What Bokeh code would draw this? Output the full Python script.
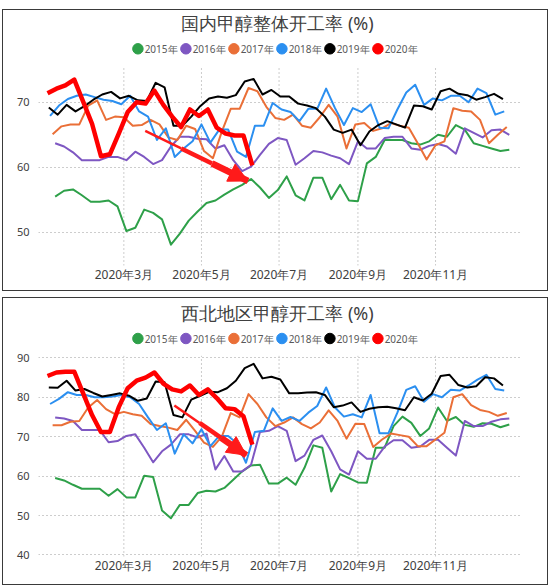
from bokeh.plotting import figure
from bokeh.models import Range1d, FixedTicker, Arrow, NormalHead, Label
from bokeh.layouts import column
from bokeh.embed import file_html
from bokeh.resources import INLINE
from bokeh.core.properties import value

years = ["2015年", "2016年", "2017年", "2018年", "2019年", "2020年"]
colors = ["#2ea049", "#7e57c2", "#ea6f37", "#2b8ff0", "#000000", "#ff0000"]
# day of 2020 (0 = 1 Jan) on which each year's first weekly reading is plotted
start_day = [6, 6, 4, 2, 1, 0]
tick_days = [60, 121, 182, 244, 305]
tick_labels = ["2020年3月", "2020年5月", "2020年7月", "2020年9月", "2020年11月"]

title_top = "国内甲醇整体开工率 (%)"
title_bot = "西北地区甲醇开工率 (%)"

# ---- 国内甲醇整体开工率 (weekly, %) ----
nat_2015 = [55.5, 56.4, 56.6, 55.7, 54.7, 54.7, 54.9, 54.0, 50.2, 50.7, 53.5, 53.0, 52.0, 48.1, 49.8, 51.8,
            53.2, 54.5, 54.9, 55.8, 56.6, 57.3, 58.2, 56.9, 55.3, 56.5, 58.6, 55.7, 54.9, 58.4, 58.4, 55.1,
            57.3, 54.9, 54.8, 60.6, 61.6, 64.2, 64.2, 64.2, 63.7, 63.5, 64.0, 65.0, 64.7, 66.5, 65.8, 63.7,
            63.3, 62.9, 62.5, 62.7]
nat_2016 = [63.7, 63.2, 62.3, 61.1, 61.1, 61.1, 61.6, 61.6, 61.1, 62.4, 61.6, 60.5, 61.1, 63.2, 64.7, 64.7,
            64.4, 64.3, 62.9, 63.4, 61.1, 59.4, 60.1, 61.9, 63.6, 64.5, 64.2, 60.4, 61.4, 62.5, 62.3, 61.8,
            61.4, 60.5, 64.0, 62.9, 62.9, 64.5, 64.7, 64.7, 62.9, 62.7, 63.3, 63.6, 63.2, 62.1, 66.0, 65.3,
            64.6, 65.7, 65.8, 65.0]
nat_2017 = [65.1, 66.3, 66.6, 66.6, 69.5, 70.3, 67.3, 67.8, 67.7, 66.4, 66.5, 67.3, 66.6, 64.6, 64.2, 66.4,
            65.9, 62.5, 61.4, 65.5, 69.0, 69.0, 72.2, 71.7, 69.3, 67.6, 67.3, 68.1, 66.4, 66.1, 67.7, 69.6,
            67.8, 62.9, 66.6, 66.8, 65.6, 66.0, 66.8, 66.4, 66.1, 63.7, 61.2, 63.4, 64.0, 69.1, 68.7, 68.6,
            67.3, 63.7, 65.0, 66.2]
nat_2018 = [67.9, 69.5, 70.5, 71.0, 71.2, 70.8, 70.4, 70.2, 69.7, 71.0, 68.6, 67.8, 64.2, 66.0, 61.6, 62.9,
            64.0, 66.6, 63.8, 65.8, 65.8, 62.4, 61.6, 66.4, 66.4, 69.9, 68.9, 68.5, 67.1, 69.0, 69.0, 72.1,
            69.1, 66.5, 69.1, 68.5, 69.7, 66.1, 66.0, 68.9, 71.5, 72.7, 69.6, 70.6, 70.3, 71.0, 71.0, 70.0,
            72.1, 71.4, 68.1, 68.6]
nat_2019 = [69.2, 68.1, 69.6, 68.6, 69.4, 70.4, 71.2, 71.6, 70.6, 71.0, 70.3, 70.2, 73.0, 72.3, 66.4, 66.4,
            67.8, 69.4, 70.6, 70.9, 70.7, 71.1, 73.2, 73.6, 71.2, 71.9, 70.9, 70.9, 69.8, 69.5, 69.1, 67.8,
            65.8, 65.3, 65.8, 63.4, 65.5, 66.5, 67.1, 66.6, 66.1, 69.5, 69.4, 68.9, 71.7, 72.1, 71.3, 71.1,
            70.4, 70.8, 71.3, 70.5]
nat_2020 = [71.4, 72.1, 72.6, 73.5, 70.1, 66.7, 61.7, 62.0, 65.2, 68.5, 70.0, 69.8, 71.8, 69.6, 67.8, 66.2,
            68.9, 67.9, 68.9, 66.1, 65.2, 64.9, 64.9, 60.3]

# ---- 西北地区甲醇开工率 (weekly, %) ----
nw_2015 = [59.5, 58.9, 57.8, 56.8, 56.8, 56.8, 55.0, 56.7, 54.6, 54.6, 60.1, 59.8, 51.3, 49.3, 52.7, 52.7,
           55.7, 56.3, 56.1, 57.0, 59.1, 61.2, 62.7, 62.9, 58.1, 58.1, 59.6, 57.8, 62.1, 67.8, 67.2, 56.1,
           60.5, 59.5, 58.4, 58.3, 67.2, 67.2, 72.7, 75.1, 73.5, 70.2, 72.1, 77.4, 74.0, 75.0, 73.0, 72.5,
           73.4, 73.3, 72.4, 73.1]
nw_2016 = [74.9, 74.6, 74.0, 71.7, 71.7, 71.7, 68.6, 68.9, 70.2, 70.6, 67.2, 63.5, 66.3, 68.0, 70.6, 70.6,
           69.8, 70.8, 61.7, 65.1, 61.2, 61.2, 62.9, 71.2, 71.5, 72.7, 71.5, 63.8, 65.2, 69.2, 70.3, 66.3,
           61.7, 60.4, 66.3, 64.4, 64.4, 67.5, 69.1, 69.1, 67.2, 67.5, 69.2, 69.2, 67.2, 65.2, 74.0, 72.7,
           72.7, 73.8, 74.4, 74.6]
nw_2017 = [72.9, 72.9, 73.8, 74.0, 77.4, 79.3, 77.0, 75.7, 76.3, 75.7, 75.3, 73.2, 72.7, 72.3, 71.7, 74.3,
           71.5, 68.5, 67.4, 70.0, 76.0, 74.9, 80.8, 78.3, 74.9, 72.7, 73.6, 74.9, 73.2, 72.1, 73.6, 76.7,
           74.0, 69.5, 73.3, 73.2, 67.4, 69.3, 70.8, 70.4, 70.0, 67.6, 67.6, 69.3, 71.0, 80.0, 80.8, 78.0,
           76.8, 76.3, 75.3, 76.0]
nw_2018 = [78.3, 79.6, 81.3, 80.6, 80.6, 80.0, 80.0, 80.2, 80.6, 80.0, 78.3, 74.9, 71.7, 73.4, 65.7, 70.6,
           68.3, 71.9, 67.6, 70.2, 70.2, 68.3, 63.4, 71.2, 71.5, 77.2, 74.0, 75.0, 74.0, 76.1, 77.8, 82.5,
           77.4, 75.1, 75.7, 74.9, 80.6, 70.9, 70.9, 76.1, 81.9, 82.8, 78.9, 80.8, 80.0, 81.9, 81.7, 83.0,
           84.5, 85.7, 82.1, 81.7]
nw_2019 = [82.5, 82.4, 84.2, 81.7, 82.1, 81.1, 80.2, 80.6, 81.0, 80.4, 79.1, 79.7, 84.0, 83.8, 75.5, 74.9,
           79.4, 80.4, 81.4, 81.3, 82.3, 84.2, 87.4, 88.5, 84.8, 85.2, 84.5, 81.0, 81.0, 81.2, 81.3, 80.6,
           77.5, 77.9, 78.7, 76.3, 77.1, 77.5, 77.6, 77.2, 76.7, 80.0, 79.2, 80.9, 85.4, 85.7, 83.1, 82.5,
           82.8, 85.1, 84.8, 83.0]
nw_2020 = [85.4, 86.3, 86.5, 86.5, 81.0, 75.5, 71.2, 71.2, 77.5, 82.3, 84.2, 85.0, 86.3, 83.5, 82.0, 81.5,
           83.0, 80.6, 82.0, 79.8, 77.2, 77.0, 75.2, 68.0]

# red annotation arrows: (day of 2020, rate) of tail and tip
arrow_top = [(76.8, 65.6), (157.6, 57.9)]
arrow_bot = [(99.7, 77.9), (156.3, 65.3)]

FONT = "Noto Sans"
RED = "#ff1a1a"
GRID = "#9a9a9a"
X_LO, X_HI = -7.1, 371.8
FRAME_W = 480


def make(title, series, y_lo, y_hi, grid_top, y_ticks, arrow, height, b_bot, title_py, legend_py):
    # frame reaches the top of the canvas; title and legend are drawn inside its upper band
    frame_h = height - 2 - b_bot
    p = figure(width=546, height=height, x_range=Range1d(X_LO, X_HI), y_range=Range1d(y_lo, y_hi),
               output_backend="svg", toolbar_location=None,
               min_border_left=35, min_border_right=29, min_border_top=0, min_border_bottom=b_bot)
    p.outline_line_color = None
    p.background_fill_color = "white"
    p.border_fill_color = "white"
    p.styles = {"border": "1px solid #3a3a3a"}

    def dx(px):  # screen px from frame left -> day
        return X_LO + px * (X_HI - X_LO) / FRAME_W

    def dy(px):  # screen px from frame top -> rate
        return y_hi - px * (y_hi - y_lo) / frame_h

    yt = FixedTicker(ticks=y_ticks)
    p.xaxis.ticker = FixedTicker(ticks=tick_days)
    p.yaxis.ticker = yt
    p.ygrid.ticker = yt
    p.xgrid.visible = False
    p.xaxis.major_label_overrides = {d: l for d, l in zip(tick_days, tick_labels)}
    for ax in (p.xaxis[0], p.yaxis[0]):
        ax.axis_line_color = None
        ax.major_tick_line_color = None
        ax.minor_tick_line_color = None
        ax.major_tick_out = 0
        ax.major_tick_in = 0
        ax.major_label_text_font = FONT
        ax.major_label_text_color = "#404040"
    p.xaxis.major_label_text_font_size = "12px"
    p.yaxis.major_label_text_font_size = "11px"
    p.xaxis.major_label_standoff = 0
    p.yaxis.major_label_standoff = 9
    p.ygrid.grid_line_color = GRID
    p.ygrid.grid_line_dash = "1 3"
    p.ygrid.grid_line_width = 1

    # vertical grid lines only over the plotting band
    n = len(tick_days)
    p.segment(tick_days, [y_lo] * n, tick_days, [grid_top] * n,
              line_color=GRID, line_dash="1 3", line_width=1)

    for k, (vals, c) in enumerate(zip(series, colors)):
        xs = [start_day[k] + 7 * i for i in range(len(vals))]
        w = 4.5 if k == 5 else 2
        p.line(xs, vals, line_color=c, line_width=w, line_join="round")

    # tapered red arrow: shaft in three widening pieces + filled head
    (x0, y0), (x1, y1) = arrow
    fr = [0.0, 0.35, 0.65, 1.0]
    sx = [x0 + (x1 - x0) * f for f in fr]
    sy = [y0 + (y1 - y0) * f for f in fr]
    p.segment(sx[:-1], sy[:-1], sx[1:], sy[1:], line_color=RED, line_width=[2.5, 4.5, 6.5])
    p.add_layout(Arrow(end=NormalHead(size=19, fill_color=RED, line_color=RED),
                       x_start=x0, y_start=y0, x_end=x1, y_end=y1, line_color=None))

    # title
    p.add_layout(Label(x=dx(238), y=dy(title_py), text=title, text_align="center",
                       text_baseline="middle", text_font=FONT, text_font_size="18px",
                       text_color="#404040"))

    # legend row: round swatch + label per year
    cx = [dx(99 + 47.8 * k) for k in range(len(years))]
    lx = [dx(99 + 47.8 * k + 6.7) for k in range(len(years))]
    ly = [dy(legend_py)] * len(years)
    p.scatter(cx, ly, marker="circle", size=10.5, fill_color=colors, line_color=colors)
    p.text(lx, ly, text=years, text_align="left", text_baseline="middle",
           text_font=value(FONT), text_font_size="10px", text_color="#595959")
    return p


p1 = make(title_top, [nat_2015, nat_2016, nat_2017, nat_2018, nat_2019, nat_2020],
          44.9, 84.12, 75.3, [50, 60, 70], arrow_top, 282, 27, 12, 38)
p2 = make(title_bot, [nw_2015, nw_2016, nw_2017, nw_2018, nw_2019, nw_2020],
          39.6, 105.07, 90.5, [40, 50, 60, 70, 80, 90], arrow_bot, 288, 30, 14, 39.7)

layout = column(p1, p2, spacing=6, styles={"margin-left": "2px", "margin-top": "9px"})
open("out.html", "w").write(file_html(layout, INLINE))
